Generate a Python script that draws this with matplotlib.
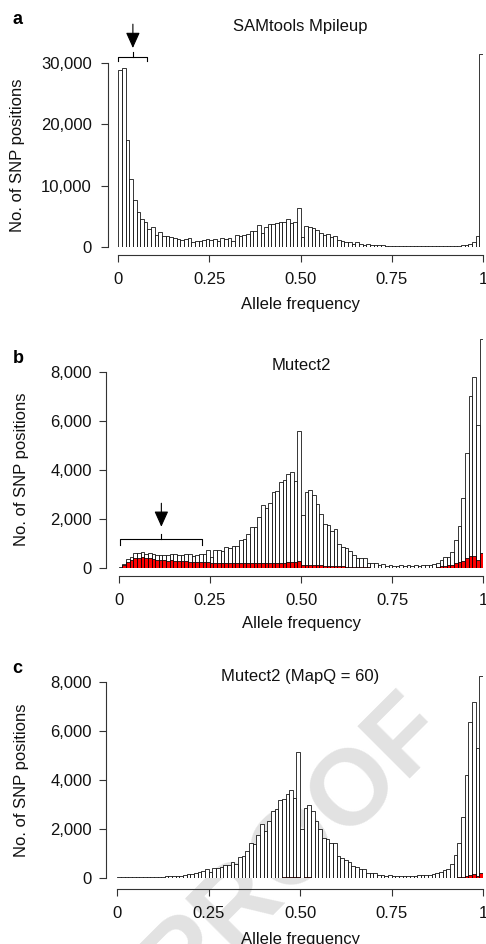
import numpy as np
import matplotlib
matplotlib.use("Agg")
import matplotlib.pyplot as plt

plt.rcParams['font.family'] = ['Liberation Sans', 'DejaVu Sans']

W, H = 486, 944

# ---------------- data (counts per 0.01 allele-frequency bin) ----------------
bin_edges = np.linspace(0, 1, 101)

samtools_all = [28900, 29300, 17400, 11100, 7600, 5600, 4500, 4000, 2900, 3200,
                1900, 2400, 1700, 1700, 1600, 1400, 1300, 1100, 1200, 1400,
                800, 1000, 900, 1100, 1300, 1100, 1200, 1000, 1400, 1200,
                1400, 900, 1900, 1800, 1900, 2100, 2500, 2500, 3500, 2200,
                3200, 3700, 3750, 3850, 4000, 4100, 4500, 3800, 4000, 6400,
                1600, 3400, 3300, 3000, 2700, 2200, 1900, 2000, 1600, 1800,
                1100, 900, 800, 700, 500, 700, 400, 300, 400, 300,
                250, 200, 200, 150, 150, 120, 110, 110, 100, 100,
                100, 90, 90, 90, 90, 90, 90, 90, 90, 100,
                100, 100, 110, 120, 200, 300, 400, 800, 1700, 31600]

mutect_all = [45, 170, 340, 450, 580, 580, 630, 560, 600, 550,
              530, 520, 530, 530, 560, 540, 500, 500, 540, 570,
              490, 530, 540, 560, 720, 450, 720, 710, 680, 840,
              800, 900, 870, 1140, 1180, 1390, 1670, 1650, 2070, 2540,
              2420, 2640, 3090, 3140, 3480, 3560, 3820, 3920, 3540, 5580,
              2150, 3070, 3170, 2970, 2590, 2180, 1780, 1750, 1500, 1560,
              950, 860, 790, 680, 530, 410, 410, 380, 200, 190,
              190, 110, 140, 70, 120, 80, 80, 90, 80, 90,
              80, 100, 80, 100, 100, 120, 150, 200, 300, 420,
              420, 650, 1130, 1700, 2830, 4700, 7000, 7800, 5830, 9350]

mutect_sub = [0, 120, 240, 310, 380, 400, 450, 380, 380, 370,
              330, 310, 310, 290, 300, 290, 260, 290, 260, 230,
              240, 230, 240, 230, 240, 200, 200, 200, 180, 180,
              180, 180, 180, 190, 190, 180, 190, 190, 180, 180,
              190, 190, 180, 200, 200, 200, 220, 220, 230, 260,
              110, 120, 120, 110, 100, 100, 80, 80, 70, 70,
              50, 50, 40, 40, 40, 40, 30, 30, 30, 0,
              0, 0, 0, 0, 0, 0, 0, 0, 0, 0,
              0, 0, 0, 0, 0, 0, 0, 40, 60, 80,
              100, 130, 180, 220, 290, 380, 460, 490, 310, 580]

mapq_all = [45, 45, 45, 45, 50, 50, 50, 55, 55, 60,
            60, 65, 70, 75, 80, 90, 100, 110, 120, 180,
            190, 230, 260, 300, 360, 270, 400, 430, 450, 550,
            540, 650, 590, 880, 920, 1100, 1420, 1380, 1770, 2200,
            1930, 2330, 2740, 2840, 3180, 3230, 3450, 3580, 3280, 5140,
            1990, 2860, 2970, 2740, 2340, 1990, 1650, 1610, 1420, 1450,
            920, 840, 740, 680, 510, 470, 360, 380, 230, 200,
            200, 140, 140, 100, 120, 100, 110, 100, 110, 100,
            110, 110, 120, 140, 120, 150, 180, 200, 250, 320,
            360, 580, 930, 1450, 2490, 4220, 6340, 7160, 5320, 8230]

mapq_sub = [0, 0, 0, 0, 0, 0, 0, 0, 0, 0,
            0, 0, 0, 0, 0, 0, 0, 0, 0, 0,
            0, 0, 0, 0, 0, 0, 0, 0, 0, 0,
            0, 0, 0, 0, 0, 0, 0, 0, 0, 0,
            0, 0, 0, 0, 0, 45, 50, 55, 55, 60,
            0, 45, 45, 0, 0, 0, 0, 0, 0, 0,
            0, 0, 0, 0, 0, 0, 0, 0, 0, 0,
            0, 0, 0, 0, 0, 0, 0, 0, 0, 0,
            0, 0, 0, 0, 0, 0, 0, 0, 0, 0,
            0, 0, 0, 50, 70, 100, 150, 180, 110, 200]

titles = ["SAMtools Mpileup", "Mutect2", "Mutect2 (MapQ = 60)"]
panel_letters = ["a", "b", "c"]
xticks = [0, 0.25, 0.5, 0.75, 1]
xticklabels = ["0", "0.25", "0.50", "0.75", "1"]
yticks_a = [0, 10000, 20000, 30000]
yticks_bc = [0, 2000, 4000, 6000, 8000]

def fmt(v):
    return f"{v:,}"

# ---------------- layout helpers (pixel geometry) ----------------
fig = plt.figure(figsize=(W / 100, H / 100), dpi=100)

def make_axes(x0, x1, y0, yref_px, yref_val, ytop):
    ppu = (y0 - yref_px) / yref_val
    top = y0 - ytop * ppu
    ax = fig.add_axes([x0 / W, 1 - y0 / H, (x1 - x0) / W, (y0 - top) / H])
    ax.set_xlim(0, 1)
    ax.set_ylim(0, ytop)
    ax.patch.set_alpha(0)
    geom = dict(x0=x0, x1=x1, y0=y0, top=top, ppu=ppu)
    return ax, geom

panels = [
    dict(x0=118.3, x1=483.0, y0=246.7, yref=63.3, yval=30000, ytop=32500,
         yspine=107.8, xspine=255.3, yticks=yticks_a, ypad=6.6,
         title_base=30.7, xlabel_base=308.7, ylabel_x=17.5, ylabel_c=155.0,
         letter_base=24.3, total=samtools_all, sub=None),
    dict(x0=118.7, x1=483.3, y0=567.7, yref=371.7, yval=8000, ytop=9600,
         yspine=106.0, xspine=575.7, yticks=yticks_bc, ypad=5.3,
         title_base=370.0, xlabel_base=628.0, ylabel_x=21.5, ylabel_c=469.7,
         letter_base=363.3, total=mutect_all, sub=mutect_sub),
    dict(x0=117.3, x1=483.0, y0=878.3, yref=681.7, yval=8000, ytop=8600,
         yspine=106.0, xspine=889.3, yticks=yticks_bc, ypad=5.3,
         title_base=680.5, xlabel_base=944.0, ylabel_x=21.5, ylabel_c=780.0,
         letter_base=673.3, total=mapq_all, sub=mapq_sub),
]

axes = []
for i, p in enumerate(panels):
    ax, g = make_axes(p['x0'], p['x1'], p['y0'], p['yref'], p['yval'], p['ytop'])
    axes.append((ax, g))
    axh = g['y0'] - g['top']
    axw = g['x1'] - g['x0']

    ax.bar(bin_edges[:-1], p['total'], width=0.01, align='edge',
           color='white', edgecolor='black', linewidth=0.55, zorder=2)
    if p['sub'] is not None:
        sub = np.asarray(p['sub'], dtype=float)
        keep = sub > 0
        ax.bar(bin_edges[:-1][keep], sub[keep], width=0.01, align='edge',
               color='#ff0000', edgecolor='black', linewidth=0.55, zorder=3)

    for s in ['top', 'right']:
        ax.spines[s].set_visible(False)
    ax.spines['left'].set_position(('outward', (p['x0'] - p['yspine']) * 0.72))
    ax.spines['bottom'].set_position(('outward', (p['xspine'] - p['y0']) * 0.72))
    ax.spines['left'].set_bounds(0, p['yticks'][-1])
    ax.spines['bottom'].set_bounds(0, 1)
    for s in ['left', 'bottom']:
        ax.spines[s].set_color('#333333')
        ax.spines[s].set_linewidth(0.8)

    ax.set_xticks(xticks)
    ax.set_xticklabels(xticklabels)
    ax.set_yticks(p['yticks'])
    ax.set_yticklabels([fmt(v) for v in p['yticks']])
    ax.tick_params(axis='x', length=5, width=0.8, color='#333333',
                   labelsize=12, pad=7.2, labelcolor='#111111')
    ax.tick_params(axis='y', length=5, width=0.8, color='#333333',
                   labelsize=12, pad=p['ypad'], labelcolor='#111111')

    ax.set_title(titles[i], fontsize=12, pad=0, color='#111111',
                 y=(g['y0'] - p['title_base']) / axh)

    ax.set_xlabel("Allele frequency", fontsize=12, color='#111111')
    ax.xaxis.label.set_va('baseline')
    ax.xaxis.set_label_coords(0.5, (g['y0'] - p['xlabel_base']) / axh)

    ax.set_ylabel("No. of SNP positions", fontsize=12, color='#111111')
    ax.yaxis.label.set_va('center')
    ax.yaxis.set_label_coords((p['ylabel_x'] - g['x0']) / axw,
                              (g['y0'] - p['ylabel_c']) / axh)

    fig.text(12.7 / W, 1 - p['letter_base'] / H, panel_letters[i],
             fontsize=13, fontweight='bold', va='baseline', ha='left')

# ---------------- bracket + arrow annotations ----------------
def bracket_arrow(ax, xl, xr, yb, yend, xm, ytick, y_from, y_tip):
    kw = dict(color='black', lw=0.8, clip_on=False, zorder=5)
    ax.plot([xl, xl, xr, xr], [yend, yb, yb, yend], **kw)
    ax.plot([xm, xm], [yb, ytick], **kw)
    ax.annotate('', xy=(xm, y_tip), xytext=(xm, y_from),
                annotation_clip=False,
                arrowprops=dict(arrowstyle='-|>,head_length=0.8,head_width=0.36',
                                mutation_scale=12, color='black', lw=0.8,
                                shrinkA=0, shrinkB=0))

bracket_arrow(axes[0][0], 0.0, 0.08, 31000, 30350, 0.04, 31800, 36400, 32500)
bracket_arrow(axes[1][0], 0.003, 0.229, 1160, 930, 0.117, 1370, 2630, 1670)

# ---------------- watermark ----------------
fig.text(316 / W, 1 - 866 / H, "PROOF", fontsize=77, fontweight='bold',
         color='#e2e2e2', rotation=45, ha='center', va='baseline',
         rotation_mode='anchor', zorder=-1)

fig.savefig("out.png", dpi=100)
